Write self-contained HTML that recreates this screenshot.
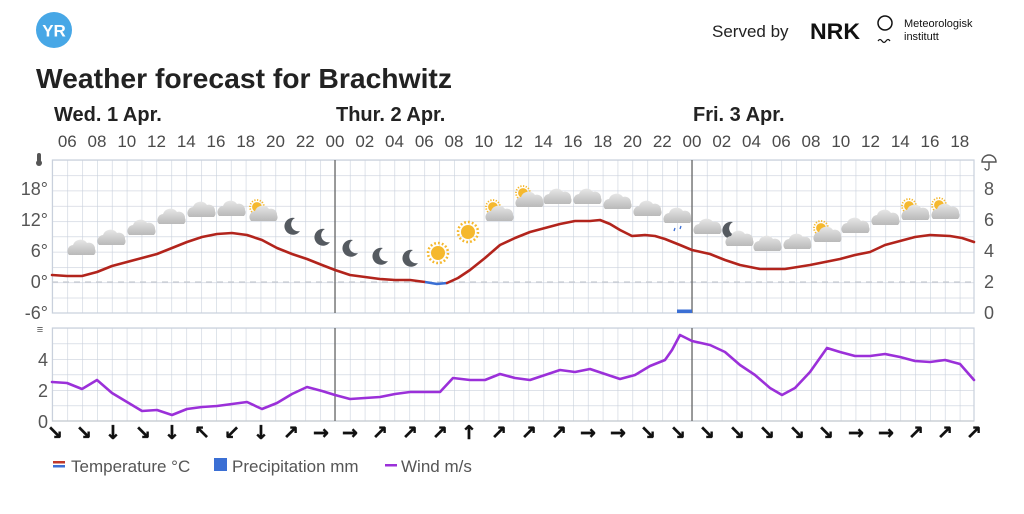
<!DOCTYPE html>
<html><head><meta charset="utf-8"><style>
html,body{margin:0;padding:0;background:#fff;}
svg{display:block;font-family:"Liberation Sans",sans-serif;}
</style></head><body>
<svg width="1024" height="514" viewBox="0 0 1024 514" xmlns="http://www.w3.org/2000/svg">
<defs>
<pattern id="g1" x="52.4" y="160" width="14.875" height="15.3" patternUnits="userSpaceOnUse">
<path d="M0 0V15.3M0 0H14.875" stroke="#c9d0dc" stroke-width="1.2" fill="none"/></pattern>
<pattern id="g2" x="52.4" y="328" width="14.875" height="15.5" patternUnits="userSpaceOnUse">
<path d="M0 0V15.5M0 0H14.875" stroke="#c9d0dc" stroke-width="1.2" fill="none"/></pattern>
<linearGradient id="cg" x1="0" y1="0" x2="0" y2="1"><stop offset="0" stop-color="#e6e6e6"/><stop offset="1" stop-color="#b9b9b9"/></linearGradient>
<g id="cl"><path d="M-13 7 A6 6 0 0 1 -9 -3 A8 8 0 0 1 5 -5 A6 6 0 0 1 13 1 A5 5 0 0 1 12 7 Z" fill="url(#cg)"/></g>
<g id="sun"><circle r="7" fill="#f5b82e"/><circle r="10" fill="none" stroke="#f5b82e" stroke-width="2.5" stroke-dasharray="1.8 2.1"/></g>
<g id="moon"><path d="M3 -8 A8.5 8.5 0 1 0 8 5 A7 7 0 0 1 3 -8Z" fill="#555a60"/></g>
<g id="sc"><use href="#sun" transform="translate(-5,-5) scale(0.7)"/><use href="#cl" transform="translate(2,2)"/></g>
</defs>

<!-- header -->
<circle cx="54" cy="30" r="18" fill="#47a7e6"/>
<text x="54" y="36.5" font-size="17" font-weight="bold" fill="#fff" text-anchor="middle">YR</text>
<text x="712" y="37" font-size="17" fill="#222">Served by</text>
<text x="810" y="39" font-size="22" font-weight="bold" fill="#111" textLength="50" lengthAdjust="spacingAndGlyphs">NRK</text>
<circle cx="885" cy="23" r="7" fill="none" stroke="#111" stroke-width="1.5"/>
<path d="M878 41 q2 -3 4 0 q2 3 4 0 q2 -3 4 0" fill="none" stroke="#111" stroke-width="1.2"/>
<text x="904" y="27" font-size="11" fill="#111">Meteorologisk</text>
<text x="904" y="40" font-size="11" fill="#111">institutt</text>
<text x="36" y="88" font-size="28" font-weight="bold" fill="#222" textLength="416" lengthAdjust="spacingAndGlyphs">Weather forecast for Brachwitz</text>
<text x="54" y="121" font-size="20" font-weight="bold" fill="#222">Wed. 1 Apr.</text>
<text x="336" y="121" font-size="20" font-weight="bold" fill="#222">Thur. 2 Apr.</text>
<text x="693" y="121" font-size="20" font-weight="bold" fill="#222">Fri. 3 Apr.</text>
<g font-size="17" fill="#4a4a4a" text-anchor="middle">
<text x="67.3" y="147">06</text><text x="97" y="147">08</text><text x="126.8" y="147">10</text><text x="156.5" y="147">12</text><text x="186.3" y="147">14</text><text x="216" y="147">16</text><text x="245.8" y="147">18</text><text x="275.5" y="147">20</text><text x="305.3" y="147">22</text><text x="335" y="147">00</text><text x="364.8" y="147">02</text><text x="394.5" y="147">04</text><text x="424.3" y="147">06</text><text x="454" y="147">08</text><text x="483.8" y="147">10</text><text x="513.5" y="147">12</text><text x="543.3" y="147">14</text><text x="573" y="147">16</text><text x="602.8" y="147">18</text><text x="632.5" y="147">20</text><text x="662.3" y="147">22</text><text x="692" y="147">00</text><text x="721.8" y="147">02</text><text x="751.5" y="147">04</text><text x="781.3" y="147">06</text><text x="811" y="147">08</text><text x="840.8" y="147">10</text><text x="870.5" y="147">12</text><text x="900.3" y="147">14</text><text x="930" y="147">16</text><text x="959.8" y="147">18</text>
</g>

<!-- temp panel -->
<rect x="52.4" y="160" width="921.6" height="153" fill="url(#g1)"/>
<rect x="52.4" y="160" width="921.6" height="153" fill="none" stroke="#c9d0dc" stroke-width="1.2"/>
<line x1="52" y1="282" x2="974" y2="282" stroke="#c8ccd2" stroke-width="1.2" stroke-dasharray="6 5"/>
<line x1="335" y1="160" x2="335" y2="313" stroke="#666" stroke-width="1.3"/>
<line x1="692" y1="160" x2="692" y2="313" stroke="#666" stroke-width="1.3"/>
<g font-size="18" fill="#555" text-anchor="end">
<text x="48" y="195">18°</text><text x="48" y="226">12°</text><text x="48" y="257">6°</text><text x="48" y="288">0°</text><text x="48" y="319">-6°</text>
</g>
<g font-size="18" fill="#555" text-anchor="middle">
<text x="989" y="195">8</text><text x="989" y="226">6</text><text x="989" y="257">4</text><text x="989" y="288">2</text><text x="989" y="319">0</text>
</g>
<rect x="37" y="153" width="4" height="9" rx="2" fill="#555"/><circle cx="39" cy="163" r="3" fill="#555"/>
<path d="M982 162 a7 7 0 0 1 14 0 Z M989 162 v6 a2 2 0 0 1 -4 0" fill="none" stroke="#555" stroke-width="1.4"/>

<rect x="677" y="309.5" width="15" height="3.5" fill="#3b6fd4"/>
<polyline fill="none" stroke="#b2241c" stroke-width="2.6" stroke-linejoin="round" stroke-linecap="round" points="52,275 67,276 82,276 97,272 112,266 127,262 142,258 157,254 172,248 187,242 202,237 217,234 232,233 247,235 262,240 277,248 292,254 307,259 322,265 335,270 350,275 365,277 380,279 395,280 410,280 425,282"/>
<polyline fill="none" stroke="#3b6fd4" stroke-width="2.6" stroke-linejoin="round" points="425,282 437,284 447,283"/>
<polyline fill="none" stroke="#b2241c" stroke-width="2.6" stroke-linejoin="round" stroke-linecap="round" points="447,283 458,278 470,270 485,258 500,245 515,238 530,232 545,228 560,224 575,221 590,221 600,220 610,224 620,230 632,236 645,235 655,236 665,239 680,245 692,250 710,254 725,260 740,265 760,269 785,269 810,265 825,262 840,259 855,255 870,252 885,245 900,241 915,237 930,235 950,236 962,238 974,242"/>

<!-- weather icons -->
<use href="#cl" x="82" y="248"/><use href="#cl" x="112" y="238"/><use href="#cl" x="142" y="228"/><use href="#cl" x="172" y="217"/><use href="#cl" x="202" y="210"/><use href="#cl" x="232" y="209"/>
<use href="#sc" x="262" y="212"/>
<use href="#moon" x="292" y="226"/><use href="#moon" x="322" y="237"/><use href="#moon" x="350" y="248"/><use href="#moon" x="380" y="256"/><use href="#moon" x="410" y="258"/>
<use href="#sun" x="438" y="253"/><use href="#sun" x="468" y="232"/>
<use href="#sc" x="498" y="212"/><use href="#sc" x="528" y="198"/>
<use href="#cl" x="558" y="197"/><use href="#cl" x="588" y="197"/><use href="#cl" x="618" y="202"/><use href="#cl" x="648" y="209"/>
<use href="#cl" x="678" y="216"/><path d="M675 228 l-1 3 M681 226 l-1 3" stroke="#3b6fd4" stroke-width="1.3"/>
<use href="#cl" x="708" y="227"/>
<use href="#moon" x="730" y="230"/><use href="#cl" x="740" y="239"/>
<use href="#cl" x="768" y="244"/><use href="#cl" x="798" y="242"/>
<use href="#sc" x="826" y="233"/><use href="#cl" x="856" y="226"/><use href="#cl" x="886" y="218"/>
<use href="#sc" x="914" y="211"/><use href="#sc" x="944" y="210"/>

<!-- wind panel -->
<rect x="52.4" y="328" width="921.6" height="93" fill="url(#g2)"/>
<rect x="52.4" y="328" width="921.6" height="93" fill="none" stroke="#c9d0dc" stroke-width="1.2"/>
<line x1="52" y1="421" x2="974" y2="421" stroke="#c8ccd2" stroke-width="1.2"/>
<line x1="335" y1="328" x2="335" y2="421" stroke="#666" stroke-width="1.3"/>
<line x1="692" y1="328" x2="692" y2="421" stroke="#666" stroke-width="1.3"/>
<g font-size="18" fill="#555" text-anchor="end">
<text x="48" y="366">4</text><text x="48" y="397">2</text><text x="48" y="428">0</text>
</g>
<text x="40" y="333" font-size="11" fill="#555" text-anchor="middle">≡</text>
<polyline fill="none" stroke="#9b30d9" stroke-width="2.6" stroke-linejoin="round" stroke-linecap="round" points="52,382 67,383 82,389 97,380 112,393 127,402 142,411 157,410 172,415 187,409 202,407 217,406 232,404 247,402 262,409 277,403 292,394 307,387 322,391 335,395 350,399 365,398 380,397 395,394 410,392 425,392 440,392 453,378 470,380 485,380 500,374 515,378 530,380 545,375 560,370 575,372 590,369 605,374 620,379 635,375 650,366 665,360 672,350 680,335 692,341 710,345 725,352 740,365 755,375 770,388 782,395 795,388 810,372 827,348 840,352 855,356 870,356 885,354 900,357 915,361 930,362 945,360 960,364 974,380"/>

<g font-size="19" font-weight="bold" fill="#111" stroke="#111" stroke-width="0.5" text-anchor="middle" font-family="DejaVu Sans,sans-serif">
<text x="55" y="439">↘</text><text x="84" y="439">↘</text><text x="113" y="439">↓</text><text x="143" y="439">↘</text><text x="172" y="439">↓</text><text x="202" y="439">↖</text><text x="232" y="439">↙</text><text x="261" y="439">↓</text><text x="291" y="439">↗</text><text x="321" y="439">→</text><text x="350" y="439">→</text><text x="380" y="439">↗</text><text x="410" y="439">↗</text><text x="440" y="439">↗</text><text x="469" y="439">↑</text><text x="499" y="439">↗</text><text x="529" y="439">↗</text><text x="559" y="439">↗</text><text x="588" y="439">→</text><text x="618" y="439">→</text><text x="648" y="439">↘</text><text x="678" y="439">↘</text><text x="707" y="439">↘</text><text x="737" y="439">↘</text><text x="767" y="439">↘</text><text x="797" y="439">↘</text><text x="826" y="439">↘</text><text x="856" y="439">→</text><text x="886" y="439">→</text><text x="916" y="439">↗</text><text x="945" y="439">↗</text><text x="974" y="439">↗</text>
</g>

<!-- legend -->
<rect x="53" y="461" width="12" height="2.5" fill="#c0392b"/><rect x="53" y="465" width="12" height="2.5" fill="#3b6fd4"/>
<text x="71" y="472" font-size="17" fill="#555">Temperature °C</text>
<rect x="214" y="458" width="13" height="13" fill="#3b6fd4"/>
<text x="232" y="472" font-size="17" fill="#555">Precipitation mm</text>
<rect x="385" y="464" width="12" height="2.5" fill="#9b30d9"/>
<text x="401" y="472" font-size="17" fill="#555">Wind m/s</text>
</svg>
</body></html>
